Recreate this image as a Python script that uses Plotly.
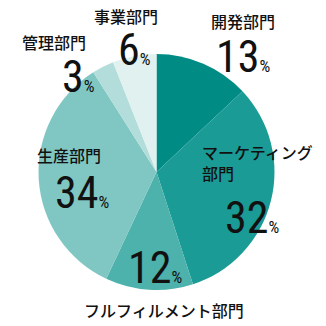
import plotly.graph_objects as go

# Department share (percent), clockwise from 12 o'clock
departments = ["開発部門", "マーケティング<br>部門", "フルフィルメント部門", "生産部門", "管理部門", "事業部門"]
shares = [13, 32, 12, 34, 3, 6]
colors = ["#008c85", "#1a9b95", "#4db1ac", "#80c7c4", "#b3dddb", "#e0f1f0"]

W = H = 326

# Label anchor points (pixels): name position, value position
name_pos = [(243, 21, "center"), (200, 162, "left"), (164, 310, "center"),
            (69, 155, "center"), (54, 42, "center"), (126, 16, "center")]
value_pos = [(243, 57), (252, 218), (155, 268), (82, 193), (78, 77), (134, 50)]

JP = "Noto Sans CJK JP"
NUM = "Roboto Condensed"

fig = go.Figure(go.Pie(
    values=shares,
    labels=[d.replace("<br>", "") for d in departments],
    marker=dict(colors=colors, line=dict(width=0)),
    sort=False,
    direction="clockwise",
    rotation=0,
    textinfo="none",
    hoverinfo="skip",
    domain=dict(x=[38 / W, 275 / W], y=[1 - 290 / H, 1 - 54 / H]),
))

annotations = []
for name, (nx, ny, al), v, (vx, vy) in zip(departments, name_pos, shares, value_pos):
    annotations.append(dict(
        x=nx / W, y=1 - ny / H, xref="paper", yref="paper",
        xanchor=al, yanchor="middle", align=al, showarrow=False,
        text=name, font=dict(family=JP, size=16, color="#111111", weight=500),
    ))
    annotations.append(dict(
        x=vx / W, y=1 - vy / H, xref="paper", yref="paper",
        xanchor="center", yanchor="middle", showarrow=False,
        text=f"{v}<span style='font-size:17px'>%</span>",
        font=dict(family=NUM, size=44, color="#111111", weight=400),
    ))

fig.update_layout(
    width=W, height=H,
    margin=dict(l=0, r=0, t=0, b=0),
    paper_bgcolor="white",
    showlegend=False,
    annotations=annotations,
)

fig.write_html("out.html")
